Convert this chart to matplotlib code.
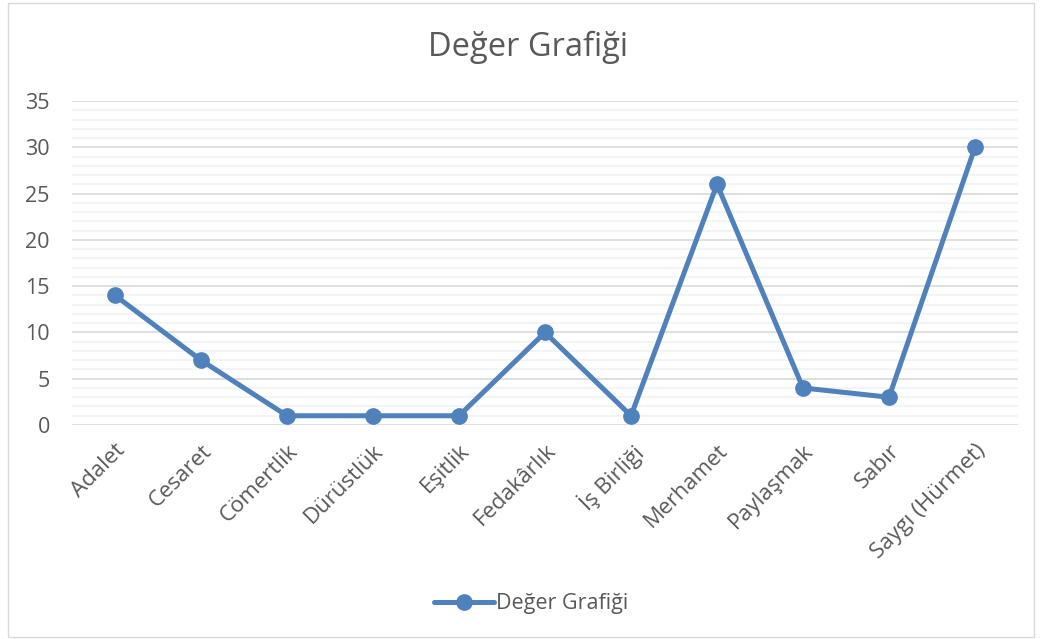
import matplotlib.pyplot as plt
from matplotlib.patches import Rectangle
from matplotlib.ticker import MultipleLocator

categories = ['Adalet', 'Cesaret', 'Cömertlik', 'Dürüstlük', 'Eşitlik', 'Fedakârlık',
              'İş Birliği', 'Merhamet', 'Paylaşmak', 'Sabır', 'Saygı (Hürmet)']
values = [14, 7, 1, 1, 1, 10, 1, 26, 4, 3, 30]
series_name = 'Değer Grafiği'

plt.rcParams['font.family'] = ['Open Sans', 'DejaVu Sans']
text_color = '#595959'
line_color = '#4F81BD'

fig = plt.figure(figsize=(10.4, 6.39), dpi=100)
ax = fig.add_axes([72 / 1040, 1 - 425 / 639, 946 / 1040, 324 / 639])

x = range(len(categories))
ax.plot(x, values, color=line_color, lw=3.6, marker='o', ms=11,
        solid_capstyle='round', solid_joinstyle='round', label=series_name, zorder=3)

ax.set_xlim(-0.5, len(categories) - 0.5)
ax.set_ylim(0, 35)
ax.yaxis.set_major_locator(MultipleLocator(5))
ax.yaxis.set_minor_locator(MultipleLocator(1))
ax.grid(axis='y', which='major', color='#D9D9D9', lw=1.2)
ax.grid(axis='y', which='minor', color='#F2F2F2', lw=1.2)
ax.set_axisbelow(True)
for s in ax.spines.values():
    s.set_visible(False)
ax.tick_params(axis='both', which='both', length=0, labelsize=15.5, colors=text_color)
ax.tick_params(axis='y', pad=16)
ax.set_xticks(list(x))
ax.set_xticklabels(categories, rotation=45, ha='right', rotation_mode='anchor', fontsize=16)
ax.tick_params(axis='x', pad=11)

fig.text(528 / 1040, 1 - 47 / 639, 'Değer Grafiği', ha='center', va='center',
         fontsize=23.5, color=text_color)

fig.legend(loc='center', bbox_to_anchor=(531 / 1040, 1 - 604 / 639), frameon=False,
           fontsize=15.5, labelcolor=text_color, handlelength=2.8, handletextpad=0.1)

fig.patches.append(Rectangle((8 / 1040, 2 / 639), 1026 / 1040, 634 / 639,
                             transform=fig.transFigure, fill=False,
                             edgecolor='#D9D9D9', lw=1))

fig.savefig('out.png', dpi=100)
